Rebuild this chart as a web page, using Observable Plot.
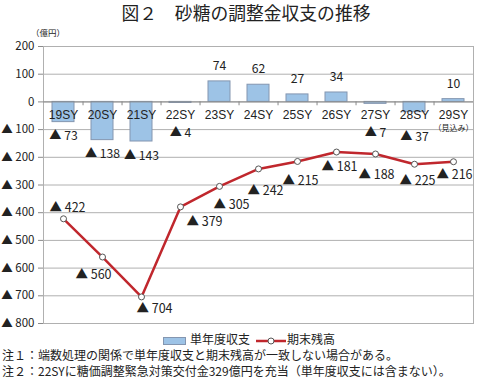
<!DOCTYPE html>
<html><head><meta charset="utf-8">
<script src="https://cdn.jsdelivr.net/npm/d3@7"></script>
<script src="https://cdn.jsdelivr.net/npm/@observablehq/plot@0.6"></script>
<style>
body{margin:0;background:#fff;font-family:"Noto Sans CJK JP",sans-serif;color:#222;}
#wrap{position:relative;width:480px;height:378px;overflow:hidden;}
#title{position:absolute;top:0;left:6px;width:480px;text-align:center;font-size:17.8px;line-height:24px;}
#unit{position:absolute;top:26px;left:31px;font-size:8.5px;}
#chart{position:absolute;top:0;left:0;}
#legend{position:absolute;top:332px;left:163px;white-space:nowrap;font-size:12px;line-height:14px;}
#legend .sw{display:inline-block;width:21px;height:6px;background:#9dc3e6;border:1px solid #8496b0;vertical-align:middle;margin-right:4px;}
#legend svg{vertical-align:middle;margin:0 1px 0 6px;}
.note{position:absolute;left:2px;font-size:12px;line-height:15px;white-space:nowrap;}
</style></head>
<body><div id="wrap">
<div id="title">図２　砂糖の調整金収支の推移</div>
<div id="unit">（億円）</div>
<div id="chart"></div>
<div id="legend"><span class="sw"></span>単年度収支<svg width="30" height="10"><line x1="0" y1="5" x2="30" y2="5" stroke="#c0272d" stroke-width="2.5"/><circle cx="15" cy="5" r="3" fill="#fff" stroke="#555"/></svg>期末残高</div>
<div class="note" style="top:347px">注１：端数処理の関係で単年度収支と期末残高が一致しない場合がある。</div>
<div class="note" style="top:363px">注２：22SYに糖価調整緊急対策交付金329億円を充当（単年度収支には含まない）。</div>
</div>
<script>
const categories = ["19SY","20SY","21SY","22SY","23SY","24SY","25SY","26SY","27SY","28SY","29SY"];
const annualBalance = [-73,-138,-143,-4,74,62,27,34,-7,-37,10];
const endBalance = [-422,-560,-704,-379,-305,-242,-215,-181,-188,-225,-216];
const yTicks = [200,100,0,-100,-200,-300,-400,-500,-600,-700,-800];
const estimateNote = "（見込み）";

// label nudges (pixels) for end-balance labels
const lineLabelDx = [4,-9,13,24,12,7,3,3,1,3,1];
const lineLabelDy = [-11,18,12,15,19,22,20,15,21,17,13];

const fmt = v => v < 0 ? "▲ " + (-v) : String(v);
const rows = categories.map((c,i)=>({cat:c, bal:annualBalance[i], end:endBalance[i], i}));

const W = 480, H = 378, mL = 43, mR = 7, mT = 46, mB = 55;
const pi = 0.44, po = 0.22;
const step = (W - mL - mR) / (categories.length - pi + 2*po);
const latinFont = "'Liberation Sans', sans-serif";

const barLabelY = d => d.bal < 0 ? (d.bal > -50 ? Math.min(d.bal - 90, -112) : d.bal - 52) : d.bal + 55;

const marks = [
  Plot.ruleY(yTicks, {stroke:"#b0b0b0"}),
  Plot.frame({stroke:"#b0b0b0"}),
  Plot.barY(rows, {x:"cat", y:"bal", fill:"#9dc3e6", stroke:"#8496b0", strokeWidth:1}),
  Plot.ruleY([0], {stroke:"#8a8a8a"}),
  Plot.ruleX(categories.slice(0,-1), {x:d=>d, y1:0, y2:-14, dx: step/2, stroke:"#8a8a8a"}),
  Plot.axisY({ticks: yTicks, tickFormat: fmt, tickSize:5, tickPadding:4, fontSize:11.5, label:null, stroke:"#8a8a8a"}),
  Plot.text(rows, {x:"cat", y:0, dy:13.5, text:"cat", fontSize:12, fontFamily:latinFont, fill:"#222"}),
  Plot.text(rows.filter(d=>d.i===categories.length-1), {x:"cat", y:0, dy:27, text:()=>estimateNote, fontSize:8, fill:"#222"}),
  Plot.text(rows, {x:"cat", y:barLabelY, text:d=>fmt(d.bal), fontSize:12.2, fill:"#222"}),
  Plot.line(rows, {x:"cat", y:"end", stroke:"#c0272d", strokeWidth:2.5}),
  Plot.dot(rows, {x:"cat", y:"end", r:3, fill:"#fff", stroke:"#555", strokeWidth:1}),
  ...rows.map(d => Plot.text([d], {x:"cat", y:"end", text:r=>fmt(r.end), dx:lineLabelDx[d.i], dy:lineLabelDy[d.i], fontSize:12.5, fill:"#222"}))
];

const chart = Plot.plot({
  width: W, height: H,
  marginLeft: mL, marginRight: mR, marginTop: mT, marginBottom: mB,
  style: {fontFamily:"'Noto Sans CJK JP', sans-serif", color:"#222", background:"transparent", fontSize:"11.5px"},
  x: {domain: categories, paddingInner: pi, paddingOuter: po, axis: null},
  y: {domain: [-800, 200], axis: null},
  marks
});
document.getElementById("chart").appendChild(chart);
</script>
</body></html>
